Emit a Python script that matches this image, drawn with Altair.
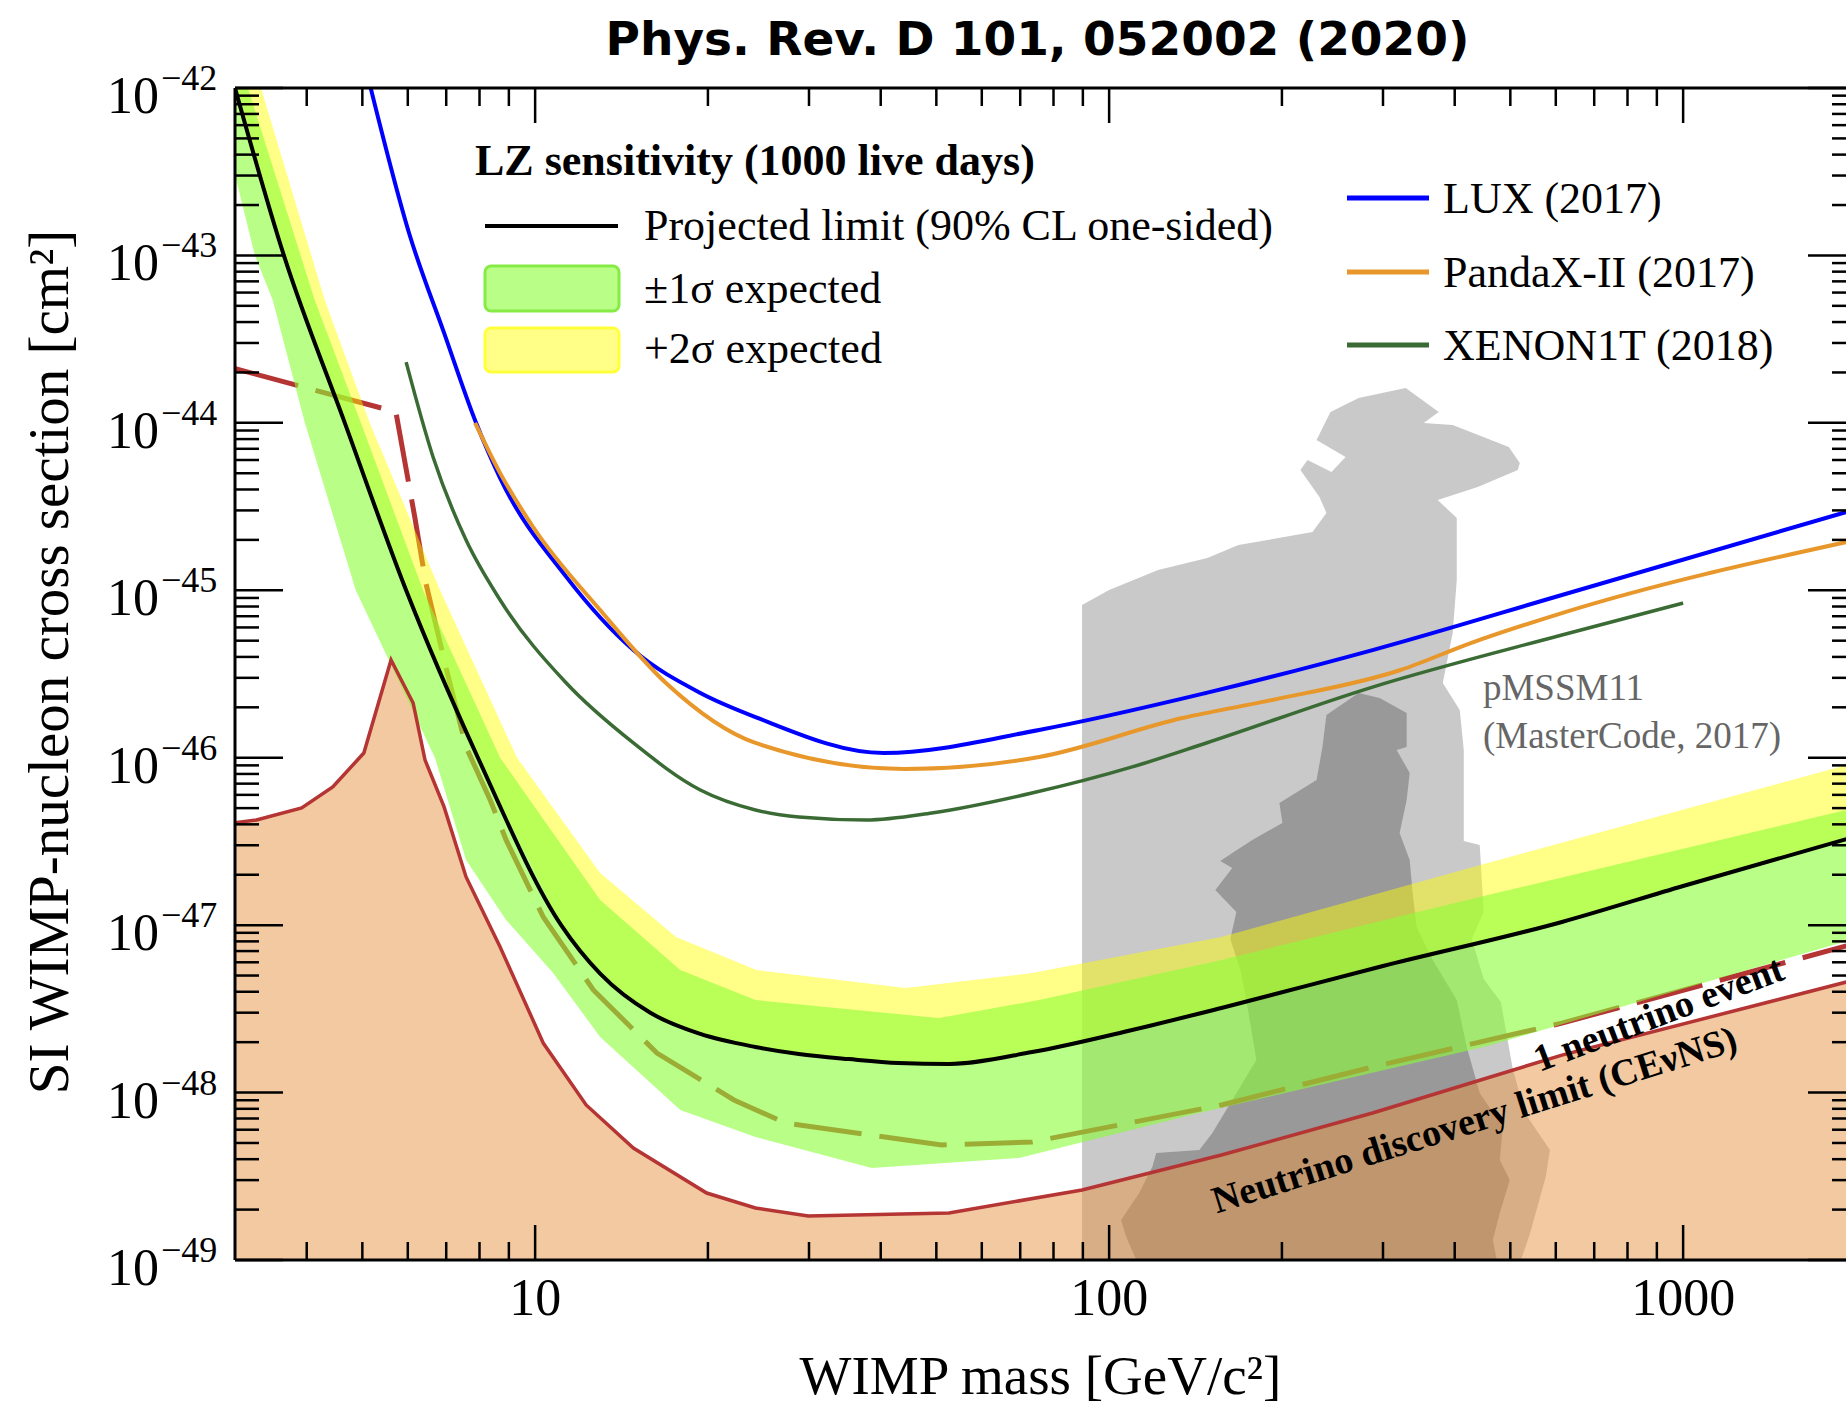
import altair as alt
import pandas as pd

# ------------------------------------------------------------------ data
# masses in GeV/c^2, cross sections given as log10(sigma / cm^2)
lz_limit_mass = [3.0, 3.65, 4.66, 5.96, 7.95, 11.1, 12.98, 15.9, 19.4, 24.2, 28.8, 35.2, 43.0, 52.6, 73.4, 109.7, 156.9, 300, 615, 1000, 1925]
lz_limit_log = [-42.0, -43.0, -44.0, -45.0, -46.0, -47.0, -47.29, -47.525, -47.65, -47.728, -47.77, -47.80, -47.823, -47.829, -47.758, -47.626, -47.495, -47.244, -46.981, -46.766, -46.486]

plus1_mass = [3.16, 4.13, 4.97, 6.38, 8.69, 12.98, 17.9, 24.2, 50.5, 75.5, 156.9, 456.6, 1925]
plus1_log = [-42.0, -43.266, -44.0, -45.0, -46.0, -46.85, -47.268, -47.447, -47.555, -47.447, -47.208, -46.82, -46.312]

minus1_mass = [3.0, 3.0, 3.25, 3.49, 3.97, 4.87, 6.69, 7.58, 8.90, 10.75, 12.98, 17.9, 24.2, 38.6, 69.7, 143.5, 456.6, 1925]
minus1_log = [-42.0, -42.52, -43.0, -43.266, -44.0, -45.0, -46.0, -46.611, -46.969, -47.286, -47.668, -48.104, -48.265, -48.45, -48.391, -48.122, -47.722, -47.095]

plus2_mass = [3.33, 4.30, 5.15, 6.83, 9.30, 12.98, 17.6, 24.3, 44.2, 73.4, 156.9, 456.6, 1925]
plus2_log = [-42.0, -43.266, -44.0, -45.0, -46.0, -46.689, -47.071, -47.268, -47.375, -47.286, -47.071, -46.629, -46.044]

one_nu_mass = [2.97, 5.72, 6.17, 6.45, 6.99, 7.58, 8.35, 8.90, 10.33, 12.63, 16.3, 22.2, 27.3, 51.1, 73.4, 156.9, 287.7, 615, 1925]
one_nu_log = [-43.672, -43.935, -44.562, -44.956, -45.458, -45.936, -46.253, -46.491, -46.951, -47.387, -47.764, -48.044, -48.182, -48.313, -48.295, -48.074, -47.847, -47.585, -47.124]

nu_floor_mass = [2.97, 3.27, 3.92, 4.44, 5.03, 5.61, 6.13, 6.43, 6.94, 7.58, 8.69, 10.33, 12.27, 14.83, 19.9, 24.2, 29.9, 52.6, 89.7, 156.9, 287.7, 615, 1925]
nu_floor_log = [-46.39, -46.372, -46.30, -46.175, -45.972, -45.416, -45.673, -46.014, -46.294, -46.712, -47.13, -47.704, -48.074, -48.331, -48.6, -48.689, -48.737, -48.719, -48.582, -48.373, -48.122, -47.776, -47.34]

lux_mass = [5.17, 6.03, 6.94, 7.89, 8.69, 11.33, 14.83, 19.4, 24.2, 40.5, 75.5, 147.7, 287.7, 615, 1925]
lux_log = [-42.0, -42.866, -43.463, -44.0, -44.33, -44.92, -45.357, -45.613, -45.757, -45.972, -45.834, -45.613, -45.357, -45.028, -44.532]

pandax_mass = [7.86, 8.69, 9.92, 12.98, 16.9, 24.2, 44.1, 75.5, 134.1, 192.5, 322, 426.6, 615, 1925]
pandax_log = [-44.0, -44.3, -44.622, -45.118, -45.554, -45.912, -46.067, -45.996, -45.763, -45.655, -45.476, -45.315, -45.136, -44.712]

xenon_mass = [5.96, 6.64, 7.58, 8.69, 11.33, 14.83, 19.4, 24.2, 28.8, 37.7, 49.1, 73.4, 109.7, 147.7, 287.7, 615, 1000]
xenon_log = [-43.637, -44.204, -44.7, -45.058, -45.554, -45.912, -46.193, -46.312, -46.354, -46.372, -46.33, -46.211, -46.055, -45.912, -45.578, -45.267, -45.076]

pmssm_light_mass = [89.7, 89.7, 100.0, 121.7, 148.3, 168.0, 226.1, 239.1, 232.5, 215.4, 221.6, 244.0, 258.2, 229.8, 243.0,
                    272.0, 328.6, 375.2, 353.2, 396.8, 496.9, 519.4, 515.2, 438.7, 373.6, 403.3, 403.3, 396.8, 381.3, 408.2,
                    414.8, 414.8, 442.2, 449.4, 428.3, 449.4, 481.3, 505.0, 530.0, 586.1, 576.8, 540.8, 521.6]
pmssm_light_log = [-49.0, -45.088, -44.998, -44.879, -44.807, -44.73, -44.652, -44.538, -44.443, -44.282, -44.222, -44.293, -44.204, -44.102, -43.935,
                   -43.852, -43.792, -43.935, -44.001, -44.013, -44.144, -44.24, -44.282, -44.383, -44.461, -44.568, -44.939, -45.255, -45.554, -45.715,
                   -45.954, -46.497, -46.521, -46.921, -47.083, -47.322, -47.459, -47.859, -48.122, -48.343, -48.498, -48.845, -49.0]

pmssm_dark_mass = [239.1, 272.0, 296.0, 329.9, 329.9, 316.9, 333.9, 329.9, 320.7, 333.9, 337.9, 343.4, 366.2, 403.3, 419.8,
                   442.2, 485.2, 479.3, 498.9, 479.3, 466.1, 473.6, 111.5, 107.1, 104.9, 112.8, 118.9, 120.8, 143.6, 151.3,
                   180.5, 173.4, 169.3, 162.6, 166.6, 153.1, 163.9, 156.2, 163.9, 177.6, 200.4, 198.0, 229.8, 235.3]
pmssm_dark_log = [-45.745, -45.613, -45.643, -45.733, -45.936, -45.954, -46.091, -46.253, -46.45, -46.611, -46.808, -47.011, -47.208, -47.447, -47.728,
                  -48.003, -48.206, -48.403, -48.522, -48.719, -48.881, -49.0, -49.0, -48.863, -48.761, -48.6, -48.444, -48.361, -48.343, -48.241,
                  -47.805, -47.447, -47.268, -47.083, -46.921, -46.79, -46.659, -46.617, -46.569, -46.491, -46.39, -46.27, -46.133, -45.936]

# axis ticks / labels
x_major = [10, 100, 1000]
x_labels = ["10", "100", "1000"]
x_minor = [4, 5, 6, 7, 8, 9, 20, 30, 40, 50, 60, 70, 80, 90, 200, 300, 400, 500, 600, 700, 800, 900]
y_exponents = [-42, -43, -44, -45, -46, -47, -48, -49]
y_minor_factors = [2, 3, 4, 5, 6, 7, 8, 9]

X_TITLE = "WIMP mass [GeV/c\u00b2]"
Y_TITLE = "SI WIMP-nucleon cross section [cm\u00b2]"
TITLE = "Phys. Rev. D 101, 052002 (2020)"

# annotation anchors (mass, log10 sigma)
pmssm_label_pos = [(448, -45.59), (448, -45.876)]
pmssm_label_txt = ["pMSSM11", "(MasterCode, 2017)"]
nu_floor_label = ("Neutrino discovery limit (CE\u03bdNS)", 433.5, -48.17)
one_nu_label = ("1 neutrino event", 908, -47.537)

# ------------------------------------------------------------------ setup
W, H = 1611, 1172
SERIF = "Liberation Serif"
xs = alt.Scale(type="log", domain=[3, 1922], nice=False)
ys = alt.Scale(type="log", domain=[1e-49, 1e-42], nice=False)


def frame(mass, logs):
    return pd.DataFrame({"m": mass, "s": [10.0 ** v for v in logs], "o": list(range(len(mass)))})


def X():
    return alt.X("m:Q", scale=xs, axis=None)


def Y():
    return alt.Y("s:Q", scale=ys, axis=None)


def polygon(df, color, opacity):
    return alt.Chart(df).mark_line(fill=color, fillOpacity=opacity, strokeOpacity=0, strokeWidth=0,
                                   clip=True).encode(x=X(), y=Y(), order="o:Q")


def curve(mass, logs, color, width, dash=None, interp="linear"):
    kw = dict(color=color, strokeWidth=width, clip=True, interpolate=interp)
    if dash:
        kw["strokeDash"] = dash
    return alt.Chart(frame(mass, logs)).mark_line(**kw).encode(x=X(), y=Y(), order="o:Q")


# pMSSM11 regions
light = polygon(frame(pmssm_light_mass, pmssm_light_log), "#c9c9c9", 1.0)
dark = polygon(frame(pmssm_dark_mass, pmssm_dark_log), "#999999", 1.0)

# neutrino floor fill
floor_fill = alt.Chart(frame(nu_floor_mass, nu_floor_log)).mark_area(
    color="#e59341", opacity=0.5, clip=True).encode(x=X(), y=Y(), y2=alt.datum(1e-49))

RED = "#b53434"
one_nu_line = curve(one_nu_mass, one_nu_log, RED, 5, dash=[68, 18])

# bands (polygons built from the boundary arrays)
yellow_df = frame(lz_limit_mass + plus2_mass[::-1], lz_limit_log + plus2_log[::-1])
green_df = frame(plus1_mass + minus1_mass[::-1], plus1_log + minus1_log[::-1])
yellow_band = polygon(yellow_df, "#ffff00", 0.47)
green_band = polygon(green_df, "#8aff37", 0.6)

lz_line = curve(lz_limit_mass, lz_limit_log, "black", 4, interp="monotone")
floor_line = curve(nu_floor_mass, nu_floor_log, RED, 3.5)
lux_line = curve(lux_mass, lux_log, "#0000ff", 4, interp="monotone")
pandax_line = curve(pandax_mass, pandax_log, "#e8972b", 4, interp="monotone")
xenon_line = curve(xenon_mass, xenon_log, "#3b6b35", 3.5, interp="monotone")

# ------------------------------------------------------------------ frame & ticks
one = pd.DataFrame({"k": [0]})
frame_lines = [
    alt.Chart(one).mark_rule(color="black", strokeWidth=3).encode(x=alt.value(0), x2=alt.value(W), y=alt.value(0)),
    alt.Chart(one).mark_rule(color="black", strokeWidth=3).encode(x=alt.value(0), x2=alt.value(W), y=alt.value(H)),
    alt.Chart(one).mark_rule(color="black", strokeWidth=3).encode(x=alt.value(0), y=alt.value(0), y2=alt.value(H)),
]

xmaj = pd.DataFrame({"m": x_major, "t": x_labels})
xmin = pd.DataFrame({"m": x_minor})
ymaj = pd.DataFrame({"s": [10.0 ** e for e in y_exponents],
                     "t": ["10"] * len(y_exponents),
                     "e": ["\u2212" + str(-e) for e in y_exponents]})
ymin = pd.DataFrame({"s": [f * 10.0 ** e for e in y_exponents[1:] for f in y_minor_factors]})

tick_layers = []
for df, length in [(xmaj, 35), (xmin, 18)]:
    tick_layers.append(alt.Chart(df).mark_rule(color="black", strokeWidth=2.5).encode(
        x=X(), y=alt.value(H), y2=alt.value(H - length)))
    tick_layers.append(alt.Chart(df).mark_rule(color="black", strokeWidth=2.5).encode(
        x=X(), y=alt.value(0), y2=alt.value(length)))
for df, length, rlen in [(ymaj, 48, 38), (ymin, 24, 14)]:
    tick_layers.append(alt.Chart(df).mark_rule(color="black", strokeWidth=2.5).encode(
        y=Y(), x=alt.value(0), x2=alt.value(length)))
    tick_layers.append(alt.Chart(df).mark_rule(color="black", strokeWidth=2.5).encode(
        y=Y(), x=alt.value(W - rlen), x2=alt.value(W)))

ylab_base = alt.Chart(ymaj).mark_text(font=SERIF, fontSize=52, align="right", baseline="alphabetic",
                                      dy=25, color="black").encode(y=Y(), x=alt.value(-76), text="t:N")
ylab_exp = alt.Chart(ymaj).mark_text(font=SERIF, fontSize=36, align="left", baseline="alphabetic",
                                     dy=2, color="black").encode(y=Y(), x=alt.value(-74), text="e:N")
xlab = alt.Chart(xmaj).mark_text(font=SERIF, fontSize=52, align="center", baseline="alphabetic",
                                 color="black").encode(x=X(), y=alt.value(H + 55), text="t:N")

axis_titles = [
    alt.Chart(pd.DataFrame({"t": [X_TITLE]})).mark_text(
        font=SERIF, fontSize=55, align="center", baseline="alphabetic", color="black").encode(
        text="t:N", x=alt.value(W / 2), y=alt.value(H + 134)),
    alt.Chart(pd.DataFrame({"t": [Y_TITLE]})).mark_text(
        font=SERIF, fontSize=57, align="center", baseline="alphabetic", angle=270, color="black").encode(
        text="t:N", x=alt.value(-167), y=alt.value(574)),
]

# ------------------------------------------------------------------ annotations
ann_df = pd.DataFrame({"m": [p[0] for p in pmssm_label_pos],
                       "s": [10.0 ** p[1] for p in pmssm_label_pos],
                       "t": pmssm_label_txt})
pmssm_text = alt.Chart(ann_df).mark_text(font=SERIF, fontSize=37, align="left", baseline="middle",
                                         color="#666666").encode(x=X(), y=Y(), text="t:N")

nu_df = pd.DataFrame({"m": [nu_floor_label[1]], "s": [10.0 ** nu_floor_label[2]], "t": [nu_floor_label[0]]})
nu_text = alt.Chart(nu_df).mark_text(font=SERIF, fontSize=38, fontWeight="bold", align="center",
                                     baseline="middle", angle=342.6, color="black").encode(x=X(), y=Y(), text="t:N")
one_df = pd.DataFrame({"m": [one_nu_label[1]], "s": [10.0 ** one_nu_label[2]], "t": [one_nu_label[0]]})
one_text = alt.Chart(one_df).mark_text(font=SERIF, fontSize=38, fontWeight="bold", align="center",
                                       baseline="middle", angle=339.3, color="black").encode(x=X(), y=Y(), text="t:N")


# ------------------------------------------------------------------ legend (manual)
def ltext(txt, x, y, size=44, weight="normal", align="left", font=SERIF):
    return alt.Chart(pd.DataFrame({"t": [txt]})).mark_text(
        font=font, fontSize=size, fontWeight=weight, align=align, baseline="middle", color="black").encode(
        text="t:N", x=alt.value(x), y=alt.value(y))


def lrule(color, x0, x1, y, width):
    return alt.Chart(one).mark_rule(color=color, strokeWidth=width).encode(
        x=alt.value(x0), x2=alt.value(x1), y=alt.value(y))


def lrect(fill, stroke, x0, x1, y0, y1):
    return alt.Chart(one).mark_rect(fill=fill, stroke=stroke, strokeWidth=3, cornerRadius=6).encode(
        x=alt.value(x0), x2=alt.value(x1), y=alt.value(y0), y2=alt.value(y1))


legend = [
    ltext("LZ sensitivity (1000 live days)", 240, 74, weight="bold"),
    lrule("black", 250, 383, 138, 4),
    ltext("Projected limit (90% CL one-sided)", 409, 139),
    lrect("#b9ff87", "#86ec45", 250, 384, 178, 223),
    ltext("\u00b11\u03c3 expected", 409, 202),
    lrect("#ffff88", "#ffff3a", 250, 384, 240, 284),
    ltext("+2\u03c3 expected", 409, 262),
    lrule("#0000ff", 1112, 1194, 110, 5),
    ltext("LUX (2017)", 1208, 112),
    lrule("#e8972b", 1112, 1194, 184, 5),
    ltext("PandaX-II (2017)", 1208, 186),
    lrule("#3b6b35", 1112, 1194, 257, 5),
    ltext("XENON1T (2018)", 1208, 259),
]

title = alt.Chart(pd.DataFrame({"t": [TITLE]})).mark_text(
    font="DejaVu Sans", fontSize=47, fontWeight="bold", align="center", baseline="alphabetic",
    color="black").encode(text="t:N", x=alt.value(W / 2 - 3), y=alt.value(-33))

chart = alt.layer(
    light, dark, floor_fill, one_nu_line, yellow_band, green_band,
    lz_line, floor_line, lux_line, pandax_line, xenon_line,
    *frame_lines, *tick_layers, ylab_base, ylab_exp, xlab, *axis_titles,
    pmssm_text, nu_text, one_text, *legend, title,
).properties(
    width=W, height=H,
    padding={"left": 235, "top": 88, "right": 0, "bottom": 148},
    autosize=alt.AutoSizeParams(type="none"),
    background="white",
).configure_view(strokeWidth=0)

chart.save("out.html", embed_options={"renderer": "svg", "actions": False})
